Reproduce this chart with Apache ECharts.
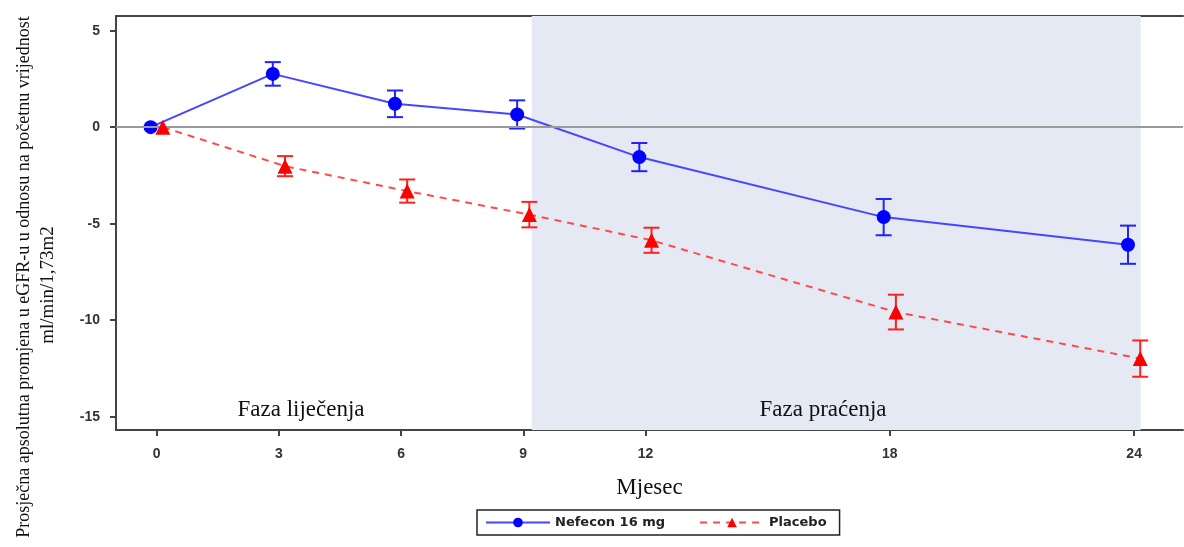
<!DOCTYPE html>
<html>
<head>
<meta charset="utf-8">
<script src="https://cdn.jsdelivr.net/npm/echarts@6/dist/echarts.min.js"></script>
<style>
  html, body { margin: 0; background: #fff; }
  #chart { width: 1184px; height: 547px; }
</style>
</head>
<body>
<div id="chart"></div>
<script>
// mjeseci (x os)
const months = [0, 3, 6, 9, 12, 18, 24];
// Nefecon 16 mg: srednja promjena i greška
const nefeconMean = [0, 2.76, 1.21, 0.66, -1.55, -4.66, -6.09];
const nefeconErr = [0, 0.61, 0.69, 0.73, 0.73, 0.94, 0.99];
// Placebo
const placeboMean = [0, -2.02, -3.31, -4.53, -5.86, -9.58, -11.99];
const placeboErr = [0, 0.52, 0.6, 0.66, 0.65, 0.9, 0.94];
// oznake y osi
const yTicks = [5, 0, -5, -10, -15];
// faza praćenja (osjenčano)
const followUpRange = [9.21, 24.16];

const serif = '"Liberation Serif", "DejaVu Serif", serif';
const sans = '"Liberation Sans", Arial, sans-serif';

let myChart = echarts.init(document.getElementById('chart'));

// mali pomak da se točke ne preklapaju
function dodge(dx) {
  return months.map((m) => m + dx);
}

// vertikalne linije greške
function errorBars(mean, err, dx, color) {
  const xs = dodge(dx);
  return {
    type: 'custom',
    silent: true,
    z: 3,
    encode: { x: 0, y: [1, 2] },
    data: xs.map((x, i) => [x, mean[i] - err[i], mean[i] + err[i]]),
    renderItem(params, api) {
      const lo = api.coord([api.value(0), api.value(1)]);
      const hi = api.coord([api.value(0), api.value(2)]);
      if (Math.abs(hi[1] - lo[1]) < 1) return;
      const w = 8;
      const style = { stroke: color, lineWidth: 2 };
      return {
        type: 'group',
        children: [
          { type: 'line', shape: { x1: lo[0], y1: lo[1], x2: hi[0], y2: hi[1] }, style },
          { type: 'line', shape: { x1: lo[0] - w, y1: lo[1], x2: lo[0] + w, y2: lo[1] }, style },
          { type: 'line', shape: { x1: hi[0] - w, y1: hi[1], x2: hi[0] + w, y2: hi[1] }, style },
        ],
      };
    },
  };
}

let option = {
  backgroundColor: '#fff',
  animation: false,
  grid: { left: 116, right: 1, top: 16, bottom: 117 },
  legend: {
    data: ['Nefecon 16 mg', 'Placebo'],
    left: 477,
    top: 510,
    height: 28,
    padding: [6, 13, 6, 8],
    borderColor: '#222',
    borderWidth: 1.5,
    itemWidth: 64,
    itemHeight: 12,
    itemGap: 34,
    textStyle: { fontFamily: '"DejaVu Sans", sans-serif', fontSize: 13, fontWeight: 'bold', color: '#222' },
  },
  graphic: [
    {
      type: 'text',
      z: 100,
      x: 24, y: 277,
      rotation: Math.PI / 2,
      style: {
        text: 'Prosječna apsolutna promjena u eGFR-u u odnosu na početnu vrijednost',
        font: '18px ' + serif,
        fill: '#111',
        align: 'center',
        verticalAlign: 'middle',
      },
    },
    {
      type: 'text',
      z: 100,
      x: 48, y: 285,
      rotation: Math.PI / 2,
      style: {
        text: 'ml/min/1,73m2',
        font: '19px ' + serif,
        fill: '#111',
        align: 'center',
        verticalAlign: 'middle',
      },
    },
    {
      type: 'text',
      z: 100,
      x: 301, y: 410,
      style: { text: 'Faza liječenja', font: '23px ' + serif, fill: '#111', align: 'center', verticalAlign: 'middle' },
    },
    {
      type: 'text',
      z: 100,
      x: 823, y: 410,
      style: { text: 'Faza praćenja', font: '23px ' + serif, fill: '#111', align: 'center', verticalAlign: 'middle' },
    },
  ],
  xAxis: [
    {
      type: 'value',
      min: -1,
      max: 25.2,
      name: 'Mjesec',
      nameLocation: 'middle',
      nameGap: 46,
      nameTextStyle: { fontFamily: serif, fontSize: 23, color: '#111' },
      axisLine: { show: true, onZero: false, lineStyle: { color: '#444', width: 2 } },
      axisTick: { show: true, length: 6, customValues: months, lineStyle: { color: '#444', width: 2 } },
      axisLabel: { customValues: months, margin: 17, fontFamily: sans, fontSize: 14, fontWeight: 'bold', color: '#333' },
      splitLine: { show: false },
    },
    {
      type: 'value',
      position: 'top',
      min: -1,
      max: 25.2,
      axisLine: { show: true, onZero: false, lineStyle: { color: '#444', width: 2 } },
      axisTick: { show: false },
      axisLabel: { show: false },
      splitLine: { show: false },
    },
  ],
  yAxis: {
    type: 'value',
    min: -15.69,
    max: 5.76,
    axisLine: { show: true, onZero: false, lineStyle: { color: '#444', width: 2 } },
    axisTick: { show: true, length: 6, customValues: yTicks, lineStyle: { color: '#444', width: 2 } },
    axisLabel: { customValues: yTicks, margin: 16, fontFamily: sans, fontSize: 14, fontWeight: 'bold', color: '#333' },
    splitLine: { show: false },
  },
  series: [
    {
      // pozadina faze praćenja i nulta linija
      type: 'line',
      data: [],
      z: 1,
      silent: true,
      markArea: {
        silent: true,
        itemStyle: { color: '#e4e9f4' },
        data: [[{ xAxis: followUpRange[0] }, { xAxis: followUpRange[1] }]],
      },
      markLine: {
        silent: true,
        symbol: 'none',
        label: { show: false },
        lineStyle: { color: '#9a9a9a', width: 2, type: 'solid' },
        data: [{ yAxis: 0 }],
      },
    },
    errorBars(nefeconMean, nefeconErr, -0.15, '#2222ff'),
    {
      name: 'Nefecon 16 mg',
      type: 'line',
      z: 4,
      data: dodge(-0.15).map((x, i) => [x, nefeconMean[i]]),
      symbol: 'circle',
      symbolSize: 14,
      lineStyle: { color: '#4646ff', width: 2 },
      itemStyle: { color: '#0000ff' },
    },
    errorBars(placeboMean, placeboErr, 0.15, '#ff2020'),
    {
      name: 'Placebo',
      type: 'line',
      z: 5,
      data: dodge(0.15).map((x, i) => [x, placeboMean[i]]),
      symbol: 'triangle',
      symbolSize: 15,
      lineStyle: { color: '#ff4a4a', width: 2, type: [7, 6] },
      itemStyle: { color: '#ff0000' },
    },
  ],
};

myChart.setOption(option);
window.onresize = myChart.resize;
</script>
</body>
</html>
